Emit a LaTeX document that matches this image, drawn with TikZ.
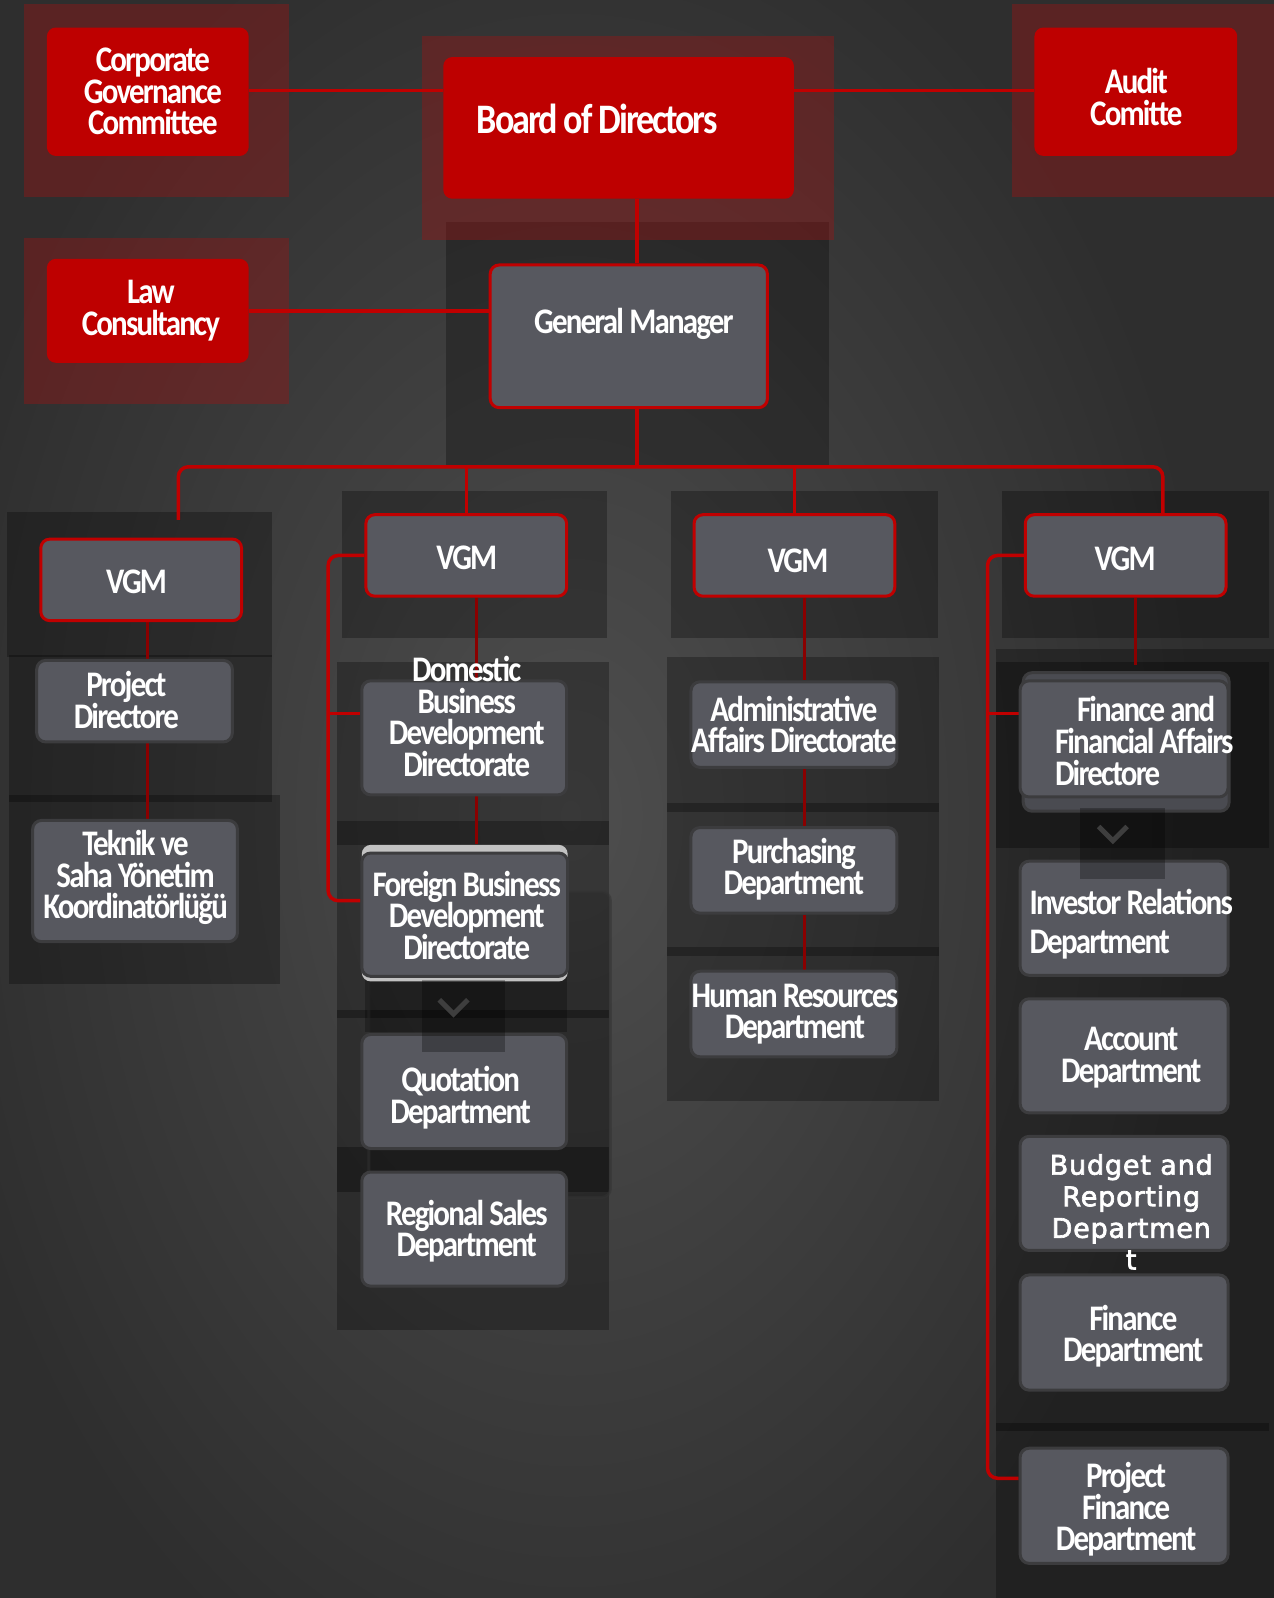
\documentclass[tikz,border=0pt]{standalone}
\usepackage{fontspec}
\usetikzlibrary{fit,calc}
\newfontfamily\mf{Carlito}[FakeStretch=0.86,LetterSpace=-5]
\newfontfamily\budf{DejaVu Sans}[LetterSpace=3,FakeBold=2.5]
\definecolor{bred}{HTML}{BE0000}
\definecolor{vred}{HTML}{C00000}
\definecolor{dred}{HTML}{8A0000}
\definecolor{bgray}{HTML}{57585F}
\definecolor{bline}{HTML}{3C3C3E}
\definecolor{bgmid}{HTML}{4E4E4E}
\definecolor{bgedge}{HTML}{2E2E2E}
\definecolor{rback}{HTML}{9C1414}
\definecolor{lightcard}{HTML}{C2C2C2}
\definecolor{chev}{HTML}{3E3E3E}
\pgfdeclarelayer{bg}
\pgfdeclarelayer{lines}
\pgfsetlayers{bg,lines,main}
\tikzset{
  redbox/.style={fill=bred, draw=none, rounded corners=9pt, inner sep=0pt},
  vgmbox/.style={fill=bgray, draw=vred, line width=3pt, rounded corners=9pt, inner sep=0pt},
  graybox/.style={fill=bgray, draw=bline, line width=3pt, rounded corners=9pt, inner sep=0pt},
  lbl/.style={text=white, font={\mf\bfseries\fontsize{36}{31.6}\selectfont}, align=center, inner sep=0pt},
  bus/.style={draw=vred, line width=3.5pt, rounded corners=10pt},
  stem/.style={draw=dred, line width=3pt},
  shadowbox/.style={fill=black, opacity=0.28},
  darkband/.style={fill=black, opacity=0.3},
  redback/.style={fill=rback, opacity=0.4},
  chevsq/.style={fill=black, opacity=0.28},
  chevron/.style={draw=chev, line width=5pt},
}
\begin{document}
\begin{tikzpicture}[x=1.0192pt,y=-1.0192pt]
\useasboundingbox (0,0) rectangle (1250,1568);
% ---------- background ----------
\begin{pgfonlayer}{bg}
\fill[bgedge] (0,0) rectangle (1250,1568);
\begin{scope}
\clip (0,0) rectangle (1250,1568);
\shade[inner color=bgmid, outer color=bgedge] (-80,-150) rectangle (1200,1750);
\end{scope}
% red backdrops
\fill[redback] (24,4) rectangle (284,193);
\fill[redback] (24,234) rectangle (284,396);
\fill[redback] (993,4) rectangle (1250,193);
\fill[shadowbox] (438,218) rectangle (813,458);
\fill[redback] (414,35) rectangle (818,235);
% column 1
\fill[shadowbox] (7,502) rectangle (267,645);
\fill[shadowbox] (9,643) rectangle (267,787);
\fill[shadowbox] (9,780) rectangle (275,966);
% column 2
\fill[shadowbox] (336,482) rectangle (596,626);
\fill[shadowbox] (331,650) rectangle (598,829);
\fill[shadowbox] (331,806) rectangle (598,1305);
\fill[darkband] (331,991) rectangle (598,999);
\fill[darkband] (331,1125) rectangle (598,1170);
% column 3
\fill[shadowbox] (658,482) rectangle (920,626);
\fill[shadowbox] (654,645) rectangle (921,797);
\fill[shadowbox] (654,788) rectangle (921,938);
\fill[shadowbox] (654,929) rectangle (921,1080);
% column 4
\fill[shadowbox] (983,482) rectangle (1245,626);
\fill[shadowbox] (977,637) rectangle (1250,1568);
\fill[darkband] (977,650) rectangle (1245,832);
\fill[darkband] (977,1396) rectangle (1245,1404);
\end{pgfonlayer}
% ---------- decorations behind boxes ----------
\draw[draw=black!80, line width=3pt, fill=black, fill opacity=0.12, draw opacity=0.5, rounded corners=9pt] (362,875) rectangle (599,1175);
\fill[black, opacity=0.25] (358,958) rectangle (556,1013);
\fill[lightcard, rounded corners=9pt] (355,829) rectangle (557,963);
\draw[fill=bgray!85!black, draw=bline, line width=3pt, rounded corners=9pt] (1004,660) rectangle (1206,796);
% ---------- boxes ----------
\node[redbox, fit={(46,27)(244,153)}] (cgc) {};
\node[redbox, fit={(1015,27)(1214,153)}] (audit) {};
\node[redbox, fit={(435,56)(779,195)}] (board) {};
\node[redbox, fit={(46,254)(244,356)}] (law) {};
\node[vgmbox, fit={(481,260)(753,400)}] (gm) {};
\node[vgmbox, fit={(40,529)(237,609)}] (vgm1) {};
\node[vgmbox, fit={(359,505)(556,585)}] (vgm2) {};
\node[vgmbox, fit={(681,505)(878,585)}] (vgm3) {};
\node[vgmbox, fit={(1006,505)(1203,585)}] (vgm4) {};
\node[graybox, fit={(36,648)(228,728)}] (pd) {};
\node[graybox, fit={(32,805)(233,924)}] (tek) {};
\node[graybox, fit={(355,668)(556,780)}] (dom) {};
\node[graybox, fit={(355,837)(557,958)}] (foreign) {};
\node[graybox, fit={(355,1015)(556,1127)}] (quot) {};
\node[graybox, fit={(355,1150)(556,1262)}] (reg) {};
\node[graybox, fit={(678,669)(880,753)}] (adm) {};
\node[graybox, fit={(678,812)(880,896)}] (pur) {};
\node[graybox, fit={(678,953)(880,1037)}] (hr) {};
\node[graybox, fit={(1001,668)(1205,782)}] (ffa) {};
\node[graybox, fit={(1001,845)(1205,957)}] (inv) {};
\node[graybox, fit={(1001,980)(1205,1092)}] (acc) {};
\node[graybox, fit={(1001,1115)(1205,1227)}] (bud) {};
\node[graybox, fit={(1001,1251)(1205,1364)}] (fin) {};
\node[graybox, fit={(1001,1421)(1205,1534)}] (pfd) {};
% chevron squares (over boxes)
\fill[chevsq] (414,962) rectangle (496,1032);
\draw[chevron] (431,981) -- (445,995) -- (459,981);
\fill[chevsq] (1060,793) rectangle (1143,862);
\draw[chevron] (1078,811) -- (1092,825) -- (1106,811);
% ---------- connectors ----------
\coordinate (y89) at (0,89);
\coordinate (bx) at (625,0);
\coordinate (busy) at (0,458);
\coordinate (c1) at (175,510);
\coordinate (c4x) at (1141,0);
\coordinate (bx2) at (322,700);
\coordinate (bx4) at (969,700);
\coordinate (x1) at (145,0);
\coordinate (x2) at (468,0);
\coordinate (x3) at (789,0);
\coordinate (x4) at (1114,0);
\begin{pgfonlayer}{lines}
\draw[bus] (cgc.east |- y89) -- (board.west |- y89);
\draw[bus] (board.east |- y89) -- (audit.west |- y89);
\draw[bus] (law.east) -- (law.east -| gm.west);
\draw[bus] (board.south -| bx) -- (gm.north -| bx);
\draw[bus] (gm.south -| bx) -- (busy -| bx);
\draw[bus] (c1) |- (busy -| c4x) -- (vgm4.north -| c4x);
\draw[bus] (vgm2.north) -- (vgm2.north |- busy);
\draw[bus] (vgm3.north) -- (vgm3.north |- busy);
\draw[bus] (vgm2.west) -| (bx2) |- ([yshift=14pt]foreign.west);
\draw[bus] (bx2) -- (bx2 -| dom.west);
\draw[bus] (vgm4.west) -| (bx4) |- ([yshift=27.5pt]pfd.west);
\draw[bus] (bx4) -- (bx4 -| ffa.west);
\draw[stem] (vgm1.south -| x1) -- (pd.north -| x1);
\draw[stem] (pd.south -| x1) -- (tek.north -| x1);
\draw[stem] (vgm2.south -| x2) -- (dom.north -| x2);
\draw[stem] (dom.south -| x2) -- ([yshift=8pt]foreign.north -| x2);
\draw[stem] (vgm3.south -| x3) -- (adm.north -| x3);
\draw[stem] (adm.south -| x3) -- (pur.north -| x3);
\draw[stem] (pur.south -| x3) -- (hr.north -| x3);
\draw[stem] (vgm4.south -| x4) -- ([yshift=14pt]ffa.north -| x4);
\end{pgfonlayer}
% ---------- labels ----------
\node[lbl] (t-cgc) at (150,90) {Corporate\\Governance\\Committee};
\node[lbl] (t-audit) at (1115,95) {Audit\\Comitte};
\node[lbl, font={\mf\bfseries\fontsize{42}{40}\selectfont}] (t-board) at (586,117) {Board of Directors};
\node[lbl] (t-law) at (148,305) {Law\\Consultancy};
\node[lbl] (t-gm) at (622,318) {General Manager};
\node[lbl] (t-vgm1) at (134,571) {VGM};
\node[lbl] (t-vgm2) at (458,547) {VGM};
\node[lbl] (t-vgm3) at (783,550) {VGM};
\node[lbl] (t-vgm4) at (1104,548) {VGM};
\node[lbl] (t-pd) at (124,687) {Project\\Directore};
\node[lbl] (t-tek) at (133,861) {Teknik ve\\Saha Yönetim\\Koordinatörlüğü};
\node[lbl] (t-dom) at (458,703) {Domestic\\Business\\Development\\Directorate};
\node[lbl] (t-foreign) at (458,898) {Foreign Business\\Development\\Directorate};
\node[lbl] (t-quot) at (452,1077) {Quotation\\Department};
\node[lbl] (t-reg) at (458,1208) {Regional Sales\\Department};
\node[lbl] (t-adm) at (779,711) {Administrative\\Affairs Directorate};
\node[lbl] (t-pur) at (779,853) {Purchasing\\Department};
\node[lbl] (t-hr) at (780,995) {Human Resources\\Department};
\node[lbl, align=left, anchor=west] (t-ffa) at (1035,727) {\hspace*{22pt}Finance and\\Financial Affairs\\Directore};
\node[lbl, align=left, anchor=west, font={\mf\bfseries\fontsize{36}{38.7}\selectfont}] (t-inv) at (1010,907) {Investor Relations\\Department};
\node[lbl] (t-acc) at (1110,1038) {Account\\Department};
\node[lbl, font={\budf\fontsize{27}{31.6}\selectfont}] (t-bud) at (1110,1189) {Budget and\\Reporting\\Departmen\\t};
\node[lbl] (t-fin) at (1112,1311) {Finance\\Department};
\node[lbl] (t-pfd) at (1105,1481) {Project\\Finance\\Department};
\end{tikzpicture}
\end{document}
